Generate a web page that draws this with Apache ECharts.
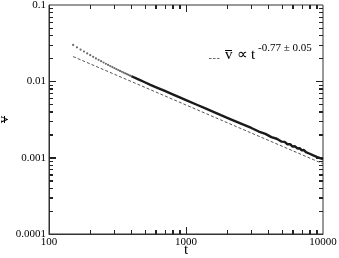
<!DOCTYPE html>
<html><head><meta charset="utf-8">
<script src="https://cdn.jsdelivr.net/npm/echarts@6/dist/echarts.min.js"></script>
<style>html,body{margin:0;padding:0;background:#fff}#c{width:339px;height:258px}</style>
</head><body><div id="c"></div>
<script>
// sparse early points (t, v)
const tEarly = [150,160,170,180,190,200,210,220,230,240,250,260,270,280,290,300,310,320,330,340,350,360,370,380,390,400];
const vEarly = [0.02998,0.02793,0.02608,0.02459,0.02323,0.02199,0.02093,0.01996,0.01914,0.01837,0.01766,0.01700,0.01638,0.01586,0.01538,0.01492,0.01449,0.01408,0.01369,0.01336,0.01303,0.01273,0.01243,0.01216,0.01189,0.01165];
// dense later data
const tLate = [400,450,500,550,600,700,800,900,1000,1200,1400,1600,1800,2000,2300,2600,3000,3400,3800,4200,4600,5000,5250,5500,5750,6000,6250,6500,6750,7000,7250,7500,7750,8000,8250,8500,8750,9000,9250,9500,9750,10000];
const vLate = [0.01165,0.01060,0.009729,0.009002,0.008419,0.007480,0.006748,0.006162,0.005682,0.004937,0.004383,0.003955,0.003612,0.003331,0.002992,0.002723,0.002450,0.002200,0.002050,0.001860,0.001770,0.001620,0.001610,0.001500,0.001505,0.001400,0.001410,0.001320,0.001330,0.001245,0.001260,0.001180,0.001195,0.001125,0.001140,0.001070,0.001090,0.001025,0.001045,0.000985,0.001000,0.000955];
// fit line v ∝ t^-0.77
const tFit = [150,10000];
const vFit = [0.02111,0.000832];
const xTickLabels = {100:'100',1000:'1000',10000:'10000'};
const yTickLabels = {'-4':'0.0001','-3':'0.001','-2':'0.01','-1':'0.1'};
const xMinor = [200,300,400,500,600,700,800,900,2000,3000,4000,5000,6000,7000,8000,9000];
const xMajor = [1000];
const yMinor = [0.0002,0.0003,0.0004,0.0005,0.0006,0.0007,0.0008,0.0009,0.002,0.003,0.004,0.005,0.006,0.007,0.008,0.009,0.02,0.03,0.04,0.05,0.06,0.07,0.08,0.09];
const yMajor = [0.001,0.01];
const legendProp = '\u221D';
const legendT = 't';
const legendExp = '-0.77 \u00B1 0.05';

const X0=100,X1=10000,Y0=0.0001,Y1=0.1;
const serif='Liberation Serif, Times New Roman, serif';
const AX='#333';

function tickAxis(base,pos,vals,len){
  return Object.assign({type:'log',logBase:10,position:pos,offset:0,gridIndex:0,
    axisLine:{show:false},axisLabel:{show:false},splitLine:{show:false},
    axisTick:{show:true,inside:true,length:len,customValues:vals,lineStyle:{color:'#222',width:1}}},base);
}
const xb={min:X0,max:X1}, yb={min:Y0,max:Y1};

const chart = echarts.init(document.getElementById('c'),null,{renderer:'canvas'});
chart.setOption({
  animation:false,
  grid:{left:49,right:16,top:5,bottom:24,show:true,borderColor:AX,borderWidth:1,containLabel:false,outerBoundsMode:'none'},
  xAxis:[{type:'log',logBase:10,min:X0,max:X1,position:'bottom',offset:0,
    name:'t',nameLocation:'middle',nameGap:9,nameMoveOverlap:false,
    nameTextStyle:{fontFamily:serif,fontSize:15,color:'#000'},
    axisLine:{show:true,lineStyle:{color:AX,width:1}},
    axisTick:{show:true,inside:true,length:7,customValues:xMajor,lineStyle:{color:'#222',width:1}},
    splitLine:{show:false},minorTick:{show:false},
    axisLabel:{fontFamily:serif,fontSize:11,color:'#000',margin:3,hideOverlap:false,
      formatter:function(v){return xTickLabels[Math.round(v)]||'';}}},
    tickAxis(xb,'bottom',xMinor,4), tickAxis(xb,'top',xMajor,7), tickAxis(xb,'top',xMinor,4)],
  yAxis:[{type:'log',logBase:10,min:Y0,max:Y1,position:'left',offset:0,
    name:'v',nameLocation:'middle',nameGap:37,nameRotate:90,nameMoveOverlap:false,
    nameTextStyle:{fontFamily:serif,fontSize:15,color:'#000'},
    axisLine:{show:true,lineStyle:{color:AX,width:1}},
    axisTick:{show:true,inside:true,length:7,customValues:yMajor,lineStyle:{color:'#222',width:1}},
    splitLine:{show:false},
    axisLabel:{fontFamily:serif,fontSize:11,color:'#000',margin:3,hideOverlap:false,
      formatter:function(v){return yTickLabels[String(Math.round(Math.log10(v)))]||'';}}},
    tickAxis(yb,'left',yMinor,4), tickAxis(yb,'right',yMajor,7), tickAxis(yb,'right',yMinor,4)],
  series:[
    {type:'line',xAxisIndex:0,yAxisIndex:0,data:tFit.map((t,i)=>[t,vFit[i]]),showSymbol:false,symbol:'none',
     lineStyle:{color:'#555',width:1,type:[3,2]},z:2},
    {type:'scatter',xAxisIndex:0,yAxisIndex:0,data:tEarly.map((t,i)=>[t,vEarly[i]]),symbol:'circle',symbolSize:2.2,
     itemStyle:{color:'#444'},z:3},
    {type:'line',xAxisIndex:0,yAxisIndex:0,data:tLate.map((t,i)=>[t,vLate[i]]),showSymbol:false,symbol:'none',
     lineStyle:{color:'#1a1a1a',width:2.4},z:3}
  ]
});

// extra tick marks drawn through the chart's own scales (same positions as the axis ticks)
const els=[];
function px(p){return chart.convertToPixel({gridIndex:0},p);}
function ln(x1,y1,x2,y2){els.push({type:'line',shape:{x1:x1,y1:y1,x2:x2,y2:y2},style:{stroke:'#222',lineWidth:1}});}
function addX(t,len){
  const b=px([t,Y0]), tp=px([t,Y1]); const x=Math.round(b[0])+0.5;
  ln(x,b[1],x,b[1]-len); ln(x,tp[1],x,tp[1]+len);
}
function addY(v,len){
  const l=px([X0,v]), r=px([X1,v]); const y=Math.round(l[1])+0.5;
  ln(l[0],y,l[0]+len,y); ln(r[0],y,r[0]-len,y);
}
xMinor.forEach(t=>addX(t,4)); xMajor.forEach(t=>addX(t,7));
yMinor.forEach(v=>addY(v,4)); yMajor.forEach(v=>addY(v,7));
els.push(
    {type:'line',shape:{x1:209,y1:58.5,x2:221,y2:58.5},style:{stroke:'#666',lineWidth:1,lineDash:[2.5,1.5]}},
    {type:'text',x:225,y:48,style:{text:'v',font:'15px '+serif,fill:'#000'}},
    {type:'line',shape:{x1:225,y1:50.5,x2:232,y2:50.5},style:{stroke:'#000',lineWidth:1}},
    {type:'text',x:237,y:48,style:{text:legendProp,font:'15px '+serif,fill:'#000'}},
    {type:'text',x:251,y:48,style:{text:legendT,font:'15px '+serif,fill:'#000'}},
    {type:'text',x:258,y:43,style:{text:legendExp,font:'11px '+serif,fill:'#000'}},
    {type:'line',shape:{x1:4.5,y1:116,x2:4.5,y2:123},style:{stroke:'#000',lineWidth:1}}
);
chart.setOption({graphic:{elements:els}});
</script></body></html>
